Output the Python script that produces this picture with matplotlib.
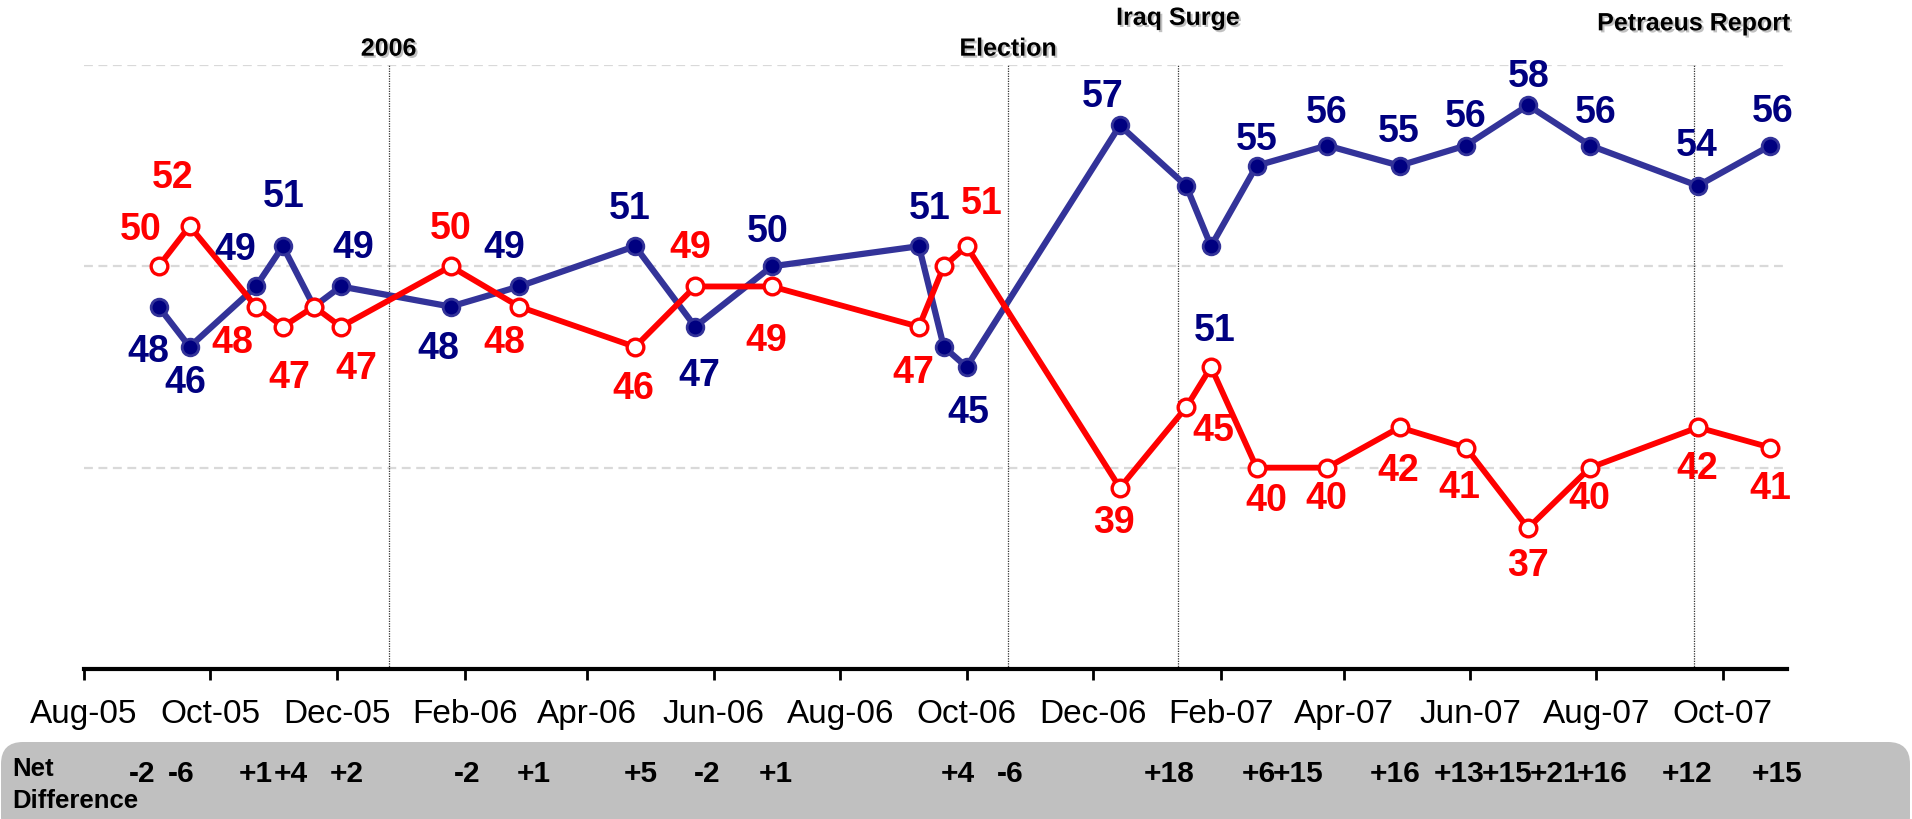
import datetime as dt
import matplotlib
matplotlib.use("Agg")
import matplotlib.pyplot as plt
import matplotlib.dates as mdates
import matplotlib.patheffects as pe
from matplotlib.patches import FancyBboxPatch
from matplotlib.transforms import IdentityTransform, blended_transform_factory

plt.rcParams['font.family'] = ['Liberation Sans', 'DejaVu Sans']

# ---------------- data ----------------
survey_dates = ["2005-09-06", "2005-09-21", "2005-10-23", "2005-11-05", "2005-11-20",
                "2005-12-03", "2006-01-25", "2006-02-27", "2006-04-24", "2006-05-23",
                "2006-06-29", "2006-09-08", "2006-09-20", "2006-10-01", "2006-12-14",
                "2007-01-15", "2007-01-27", "2007-02-18", "2007-03-24", "2007-04-28",
                "2007-05-30", "2007-06-29", "2007-07-29", "2007-09-19", "2007-10-24"]
blue_values = [48, 46, 49, 51, 48, 49, 48, 49, 51, 47, 50, 51, 46, 45, 57,
               54, 51, 55, 56, 55, 56, 58, 56, 54, 56]
red_values = [50, 52, 48, 47, 48, 47, 50, 48, 46, 49, 49, 47, 50, 51, 39,
              43, 45, 40, 40, 42, 41, 37, 40, 42, 41]

events = ["2006", "Election", "Iraq Surge", "Petraeus Report"]
event_dates = ["2005-12-26", "2006-10-21", "2007-01-11", "2007-09-17"]

net_title_lines = ["Net", "Difference"]

# ---------------- layout (label placement, pixels) ----------------
# (dx, dy) offsets of value labels from their point, None = no label
blue_label_off = [(-10, -44), (-4, -35), (-21, 37), (1, 50), None, (12, 39), (-12, -41),
                  (-15, 39), (-5, 38), (4, -48), (-4, 35), (11, 38), None, (2, -45),
                  (-17, 29), None, (4, -84), (0, 27), (0, 34), (-1, 35), (0, 30),
                  (1, 29), (6, 34), (-1, 41), (2, 35)]
red_label_off = [(-18, 37), (-17, 49), (-24, -35), (6, -50), None, (15, -41), (0, 38),
                 (-15, -35), (-2, -41), (-5, 39), (-6, -54), (-6, -45), None, (15, 43),
                 (-6, -34), None, (2, -63), (10, -32), (-1, -30), (-1, -43), (-7, -39),
                 (0, -37), (-1, -30), (-1, -41), (0, -40)]
net_label_dates = ["2005-08-29", "2005-09-17", "2005-10-23", "2005-11-09", "2005-12-06",
                   "2006-02-02", "2006-03-06", "2006-04-27", "2006-05-29", "2006-07-01",
                   "2006-09-27", "2006-10-22", "2007-01-07", "2007-02-19", "2007-03-10",
                   "2007-04-26", "2007-05-27", "2007-06-19", "2007-07-12", "2007-08-04",
                   "2007-09-14", "2007-10-27"]
event_text_y = [1.027, 1.027, 1.078, 1.069]
net_title_y = [769, 801]

W, H = 1912, 820
BLUE_LINE = "#333399"
BLUE_TXT = "#000080"
RED = "#FF0000"

to_date = lambda s: dt.datetime.strptime(s, "%Y-%m-%d")
x = [to_date(s) for s in survey_dates]

fig = plt.figure(figsize=(W / 100, H / 100), dpi=100)
fig.patch.set_facecolor("white")

# grey net-difference band
band = FancyBboxPatch((1, -20), W - 3, (H - 743) + 20,
                      boxstyle="round,pad=0,rounding_size=22",
                      facecolor="#C0C0C0", edgecolor="none",
                      transform=IdentityTransform(), zorder=0)
fig.add_artist(band)

ax = fig.add_axes([84 / W, 150 / H, (1787 - 84) / W, 604 / H])
ax.set_facecolor("none")
ax.set_xlim(to_date("2005-08-01"), to_date("2007-11-01"))
ax.set_ylim(30, 60)

for s in ["left", "right", "top"]:
    ax.spines[s].set_visible(False)
ax.spines["bottom"].set_linewidth(3)
ax.spines["bottom"].set_color("black")
ax.set_yticks([])

ax.xaxis.set_major_locator(mdates.MonthLocator(bymonth=[2, 4, 6, 8, 10, 12]))
ax.xaxis.set_major_formatter(mdates.DateFormatter("%b-%y"))
ax.tick_params(axis="x", direction="out", length=8, width=2, pad=13,
               labelsize=24, colors="black")

for gy in [40, 50, 60]:
    ax.axhline(gy, color="#D9D9D9", lw=1.6, ls=(0, (4, 2.5)), zorder=1)

for name, d, ty in zip(events, event_dates, event_text_y):
    xd = to_date(d)
    ax.plot([xd, xd], [30, 60], color="#333333", lw=0.9, ls=(0, (1, 1)), zorder=1.5)
    ax.text(xd, ty, name, transform=blended_transform_factory(ax.transData, ax.transAxes),
            ha="center", va="center", fontsize=18, fontweight="bold", color="black",
            path_effects=[pe.withSimplePatchShadow(offset=(1.5, -1.5),
                                                   shadow_rgbFace="#999999", alpha=0.6)])

ax.plot(x, blue_values, color=BLUE_LINE, lw=4.5, marker="o", markersize=12,
        markerfacecolor=BLUE_TXT, markeredgecolor=BLUE_LINE, markeredgewidth=2,
        zorder=3, clip_on=False)
ax.plot(x, red_values, color=RED, lw=4.2, marker="o", markersize=12,
        markerfacecolor="white", markeredgecolor=RED, markeredgewidth=2.4,
        zorder=4, clip_on=False)

for xi, v, off in zip(x, blue_values, blue_label_off):
    if off is None:
        continue
    ax.annotate(str(v), (xi, v), xytext=off, textcoords="offset pixels",
                ha="center", va="center", fontsize=27, fontweight="bold",
                color=BLUE_TXT, zorder=5, annotation_clip=False)
for xi, v, off in zip(x, red_values, red_label_off):
    if off is None:
        continue
    ax.annotate(str(v), (xi, v), xytext=off, textcoords="offset pixels",
                ha="center", va="center", fontsize=27, fontweight="bold",
                color=RED, zorder=5, annotation_clip=False)

# net difference row (blue minus red) for labelled points
shown = [i for i, off in enumerate(blue_label_off) if off is not None]
btrans = blended_transform_factory(ax.transData, fig.transFigure)
for i, ld in zip(shown, net_label_dates):
    diff = blue_values[i] - red_values[i]
    ax.text(to_date(ld), (H - 774) / H, f"{diff:+d}", transform=btrans,
            ha="center", va="center", fontsize=21.5, fontweight="bold", color="black")

for line, ty in zip(net_title_lines, net_title_y):
    fig.text(12 / W, (H - ty) / H, line, ha="left", va="center", fontsize=18.5,
             fontweight="bold", color="black")

fig.savefig("out.png", dpi=100, facecolor="white")
